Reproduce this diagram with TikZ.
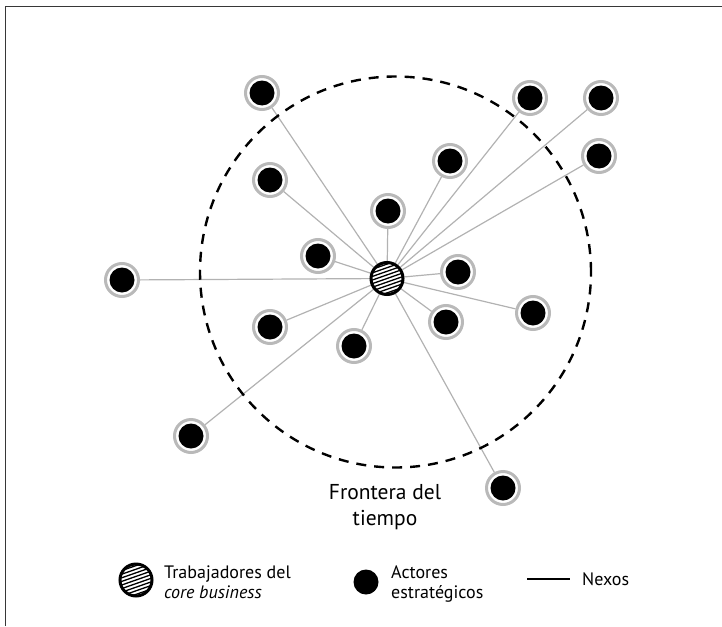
\documentclass[tikz,border=0pt]{standalone}
\usepackage{fontspec}
\setmainfont{PT Sans}
\usetikzlibrary{backgrounds}
\definecolor{ringgray}{RGB}{185,185,185}
\definecolor{linkgray}{RGB}{178,178,178}
\definecolor{framegray}{RGB}{55,55,55}
\tikzset{
  actor/.style={circle, draw=ringgray, line width=3pt, fill=white,
    minimum size=33pt, inner sep=0pt,
    path picture={\fill[black] (path picture bounding box.center) circle (12.5pt);}},
  hub/.style={circle, draw=black, line width=3pt, fill=white,
    minimum size=32pt, inner sep=0pt,
    path picture={
      \begin{scope}[shift={(path picture bounding box.center)}]
        \foreach \k in {-18,-14.4,...,18}
          \draw[line width=1.3pt] (-20pt,{(\k-7)*1pt}) -- (20pt,{(\k+7)*1pt});
      \end{scope}}},
  dot/.style={circle, fill=black, minimum size=25pt, inner sep=0pt},
  link/.style={draw=linkgray, line width=1.2pt},
  frontier/.style={circle, draw=black, dash pattern=on 10pt off 8pt,
    line width=2.4pt, minimum size=391pt, inner sep=0pt},
  bigtext/.style={font=\fontsize{21.5}{26}\selectfont, align=center},
  legtext/.style={font=\fontsize{18}{20.5}\selectfont, align=left, anchor=west, inner sep=0pt},
}
\begin{document}
\begin{tikzpicture}[x=1pt, y=-1pt]
  \useasboundingbox (0,0) rectangle (722,626);
  % frame
  \draw[framegray, line width=1.2pt] (5.5,626) -- (5.5,6.5) -- (722,6.5);

  % time boundary
  \node[frontier] (frontera) at (395.5,272) {};

  % core business workers
  \node[hub] (hub) at (387,278.5) {};

  % strategic actors
  \node[actor] (a1)  at (262,93)  {};
  \node[actor] (a2)  at (530,98)  {};
  \node[actor] (a3)  at (601,98)  {};
  \node[actor] (a4)  at (450,161) {};
  \node[actor] (a5)  at (599,156) {};
  \node[actor] (a6)  at (270,180) {};
  \node[actor] (a7)  at (388,211) {};
  \node[actor] (a8)  at (318,256) {};
  \node[actor] (a9)  at (122,280) {};
  \node[actor] (a10) at (458,272) {};
  \node[actor] (a11) at (533,313) {};
  \node[actor] (a12) at (270,327) {};
  \node[actor] (a13) at (446,322) {};
  \node[actor] (a14) at (354,346) {};
  \node[actor] (a15) at (191,436) {};
  \node[actor] (a16) at (503,488) {};

  % links
  \begin{pgfonlayer}{background}
    \foreach \n in {a1,a2,a3,a4,a5,a6,a7,a8,a9,a10,a11,a12,a13,a14,a15,a16}
      \draw[link] (hub) -- (\n);
  \end{pgfonlayer}

  \node[bigtext] (frontlabel) at (385,507) {Frontera del\\tiempo};

  % legend
  \node[hub] (leghub) at (136,580) {};
  \node[legtext] (leghubtext) at (164,582) {Trabajadores del\\\textit{core business}};
  \node[dot] (legdot) at (366,582) {};
  \node[legtext] (legdottext) at (391,584) {Actores\\estratégicos};
  \coordinate (nexA) at (527,579);
  \coordinate (nexB) at (570,579);
  \draw[black, line width=1.2pt] (nexA) -- (nexB);
  \node[legtext] (legnexos) at (582,579) {Nexos};
\end{tikzpicture}
\end{document}
